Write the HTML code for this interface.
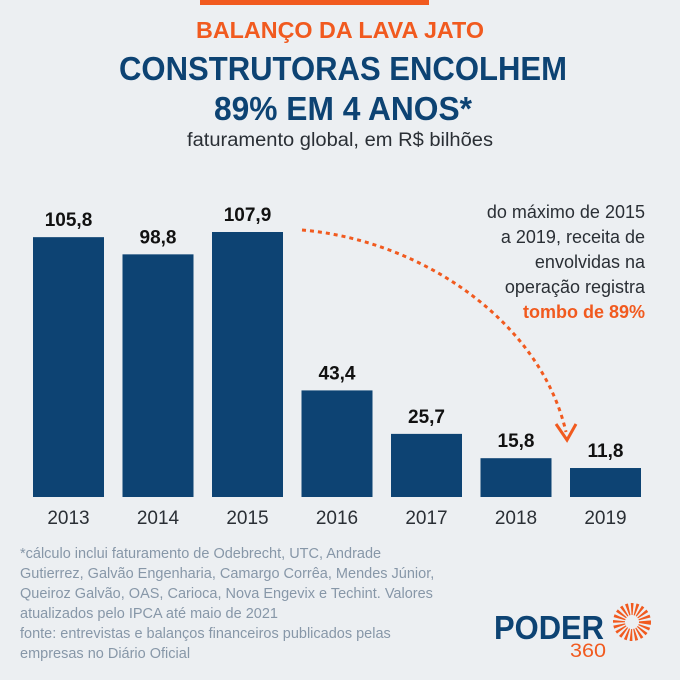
<!DOCTYPE html>
<html><head><meta charset="utf-8"><style>
body{margin:0;background:#eceff2}
svg{display:block}
text{font-family:"Liberation Sans",sans-serif}
</style></head><body>
<svg width="680" height="680" viewBox="0 0 680 680">
<rect width="680" height="680" fill="#eceff2"/>
<rect x="200" y="0" width="229" height="5" fill="#f15a1f"/>
<text x="340" y="38" text-anchor="middle" font-size="23" font-weight="bold" fill="#f15a1f" textLength="288" lengthAdjust="spacingAndGlyphs">BALANÇO DA LAVA JATO</text>
<text x="343" y="80" text-anchor="middle" font-size="33" font-weight="bold" fill="#0d4373" textLength="448" lengthAdjust="spacingAndGlyphs">CONSTRUTORAS ENCOLHEM</text>
<text x="343" y="120" text-anchor="middle" font-size="33" font-weight="bold" fill="#0d4373" textLength="258" lengthAdjust="spacingAndGlyphs">89% EM 4 ANOS*</text>
<text x="340" y="146" text-anchor="middle" font-size="19" fill="#2a2f35" textLength="306" lengthAdjust="spacingAndGlyphs">faturamento global, em R$ bilhões</text>
<g id="bars"></g>
<g font-size="18" fill="#2a2f35" text-anchor="end">
<text x="645" y="218">do máximo de 2015</text>
<text x="645" y="243">a 2019, receita de</text>
<text x="645" y="268">envolvidas na</text>
<text x="645" y="293">operação registra</text>
<text x="645" y="318" font-weight="bold" fill="#f15a1f">tombo de 89%</text>
</g>
<path d="M302,230 C420,240 540,320 566,432" fill="none" stroke="#f15a1f" stroke-width="3" stroke-dasharray="4,4"/>
<path d="M556,424 L567,440 L576,424" fill="none" stroke="#f15a1f" stroke-width="3"/>
<g font-size="14.5" fill="#8797a8">
<text x="20" y="558">*cálculo inclui faturamento de Odebrecht, UTC, Andrade</text>
<text x="20" y="578">Gutierrez, Galvão Engenharia, Camargo Corrêa, Mendes Júnior,</text>
<text x="20" y="598">Queiroz Galvão, OAS, Carioca, Nova Engevix e Techint. Valores</text>
<text x="20" y="618">atualizados pelo IPCA até maio de 2021</text>
<text x="20" y="638">fonte: entrevistas e balanços financeiros publicados pelas</text>
<text x="20" y="658">empresas no Diário Oficial</text>
</g>
<g>
<text x="494" y="639" font-size="33" font-weight="bold" fill="#0d4373" textLength="110" lengthAdjust="spacingAndGlyphs">PODER</text>
<text x="570" y="657" font-size="19" fill="#f15a1f" textLength="36" lengthAdjust="spacingAndGlyphs">360</text>
<circle cx="632" cy="622" r="13" fill="none" stroke="#f15a1f" stroke-width="12" stroke-dasharray="2,2"/>
</g>
</svg>
<script>
const categories=["2013","2014","2015","2016","2017","2018","2019"];
const values=[105.8,98.8,107.9,43.4,25.7,15.8,11.8];
const labels=["105,8","98,8","107,9","43,4","25,7","15,8","11,8"];
const NS="http://www.w3.org/2000/svg";
const base=497,scale=265/107.9;
function xPos(i){return 33+i*89.5;}
function yPos(v){return base-v*scale;}
const g=document.getElementById('bars');
categories.forEach((c,i)=>{
 const r=document.createElementNS(NS,'rect');
 r.setAttribute('x',xPos(i));r.setAttribute('y',yPos(values[i]));
 r.setAttribute('width',71);r.setAttribute('height',base-yPos(values[i]));
 r.setAttribute('fill','#0d4373');
 
 
 g.appendChild(r);
 const t=document.createElementNS(NS,'text');
 t.setAttribute('x',xPos(i)+35.5);t.setAttribute('y',yPos(values[i])-11);
 t.setAttribute('text-anchor','middle');t.setAttribute('font-size','19');
 t.setAttribute('font-weight','bold');t.setAttribute('fill','#111');
 t.textContent=labels[i];
 
 
 g.appendChild(t);
 const y=document.createElementNS(NS,'text');
 y.setAttribute('x',xPos(i)+35.5);y.setAttribute('y',524);
 y.setAttribute('text-anchor','middle');y.setAttribute('font-size','19');
 y.setAttribute('fill','#2a2f35');
 y.textContent=c;
 
 
 g.appendChild(y);
});
</script>
</body></html>
